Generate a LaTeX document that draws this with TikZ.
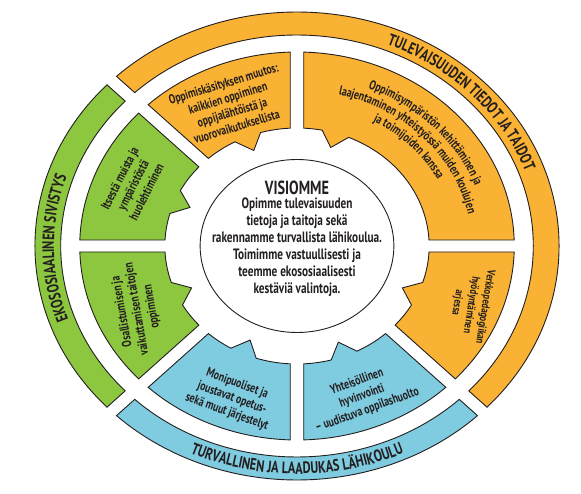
\documentclass[tikz,border=0pt]{standalone}
\usepackage{fontspec}
\setmainfont{PT Sans}[FakeStretch=0.75]
\usetikzlibrary{decorations.text}
\definecolor{orng}{RGB}{250,178,52}
\definecolor{grn}{RGB}{141,198,63}
\definecolor{blu}{RGB}{127,203,224}
\definecolor{ink}{RGB}{35,31,32}
\newcommand\bandfont{\bfseries\fontsize{16.5}{17}\selectfont}
\newcommand\segfont{\bfseries\fontsize{13}{15}\selectfont}
\newcommand\gd{6}
% a1 a2 tooth-centre colour
\newcommand\segm[4]{%
 \filldraw[segline, fill=#4] ({#1+asin(\gd/194)}:194)
  arc[start angle={#1+asin(\gd/194)}, end angle={#2-asin(\gd/194)}, radius=194]
  -- ({#2-asin(\gd/118)}:118)
  arc[start angle={#2-asin(\gd/118)}, end angle={#3+6}, radius=118]
  -- ({#3}:103) -- ({#3-6}:118)
  arc[start angle={#3-6}, end angle={#1+asin(\gd/118)}, radius=118] -- cycle;}
\newcommand\band[3]{%
 \filldraw[segline, fill=#3] ({#1+asin(\gd/234)}:234)
  arc[start angle={#1+asin(\gd/234)}, end angle={#2-asin(\gd/234)}, radius=234]
  -- ({#2-asin(\gd/211)}:211)
  arc[start angle={#2-asin(\gd/211)}, end angle={#1+asin(\gd/211)}, radius=211] -- cycle;}
\begin{document}
\begin{tikzpicture}[x=1pt,y=1pt,
  segline/.style={draw=ink, line width=0.9},
  segtext/.style={align=center, font=\segfont, text=ink, inner sep=0},
  ctext/.style={align=center, text=ink, inner sep=0}]
\useasboundingbox[fill=white] (0,0) rectangle (581,493);
\begin{scope}[shift={(297,247)}, xscale=1.12]
  \band{135}{225}{grn}
  \band{225}{315}{blu}
  \band{-45}{135}{orng}
  \segm{0}{90}{73}{orng}
  \segm{90}{135}{112}{orng}
  \segm{135}{180}{158}{grn}
  \segm{180}{225}{204}{grn}
  \segm{225}{270}{246}{blu}
  \segm{270}{315}{291}{blu}
  \segm{315}{360}{336}{orng}
  \filldraw[segline, fill=white] (0,0) circle[radius=86.5];
\end{scope}
\begin{scope}[shift={(297,247)}]
  \path[decorate, decoration={text along path, text color=ink, text align=center,
    text={|\bandfont|TULEVAISUUDEN TIEDOT JA TAIDOT}}]
    (82:243.04 and 217) arc[start angle=82, end angle=5, x radius=243.04, y radius=217];
  \path[decorate, decoration={text along path, text color=ink, text align=center,
    text={|\bandfont|EKOSOSIAALINEN SIVISTYS}}]
    (215:243.04 and 217) arc[start angle=215, end angle=146, x radius=243.04, y radius=217];
  \path[decorate, decoration={text along path, text color=ink, text align=center,
    text={|\bandfont|TURVALLINEN JA LAADUKAS LÄHIKOULU}}]
    (230:255.36 and 228) arc[start angle=230, end angle=310, x radius=255.36, y radius=228];
  \path[decorate, decoration={text along path, text color=ink, text align=center,
    text={|\segfont|Oppimisympäristön kehittäminen ja}}]
    (85:190.4 and 170) arc[start angle=85, end angle=2, x radius=190.4, y radius=170];
  \path[decorate, decoration={text along path, text color=ink, text align=center,
    text={|\segfont|laajentaminen yhteistyössä muiden koulujen}}]
    (85:174.72 and 156) arc[start angle=85, end angle=2, x radius=174.72, y radius=156];
  \path[decorate, decoration={text along path, text color=ink, text align=center,
    text={|\segfont|ja toimijoiden kanssa}}]
    (85:159.04 and 142) arc[start angle=85, end angle=2, x radius=159.04, y radius=142];
\end{scope}
\node[ctext, font=\bfseries\fontsize{19}{19}\selectfont] (vis) at (297,305) {VISIOMME};
\node[ctext, font=\bfseries\fontsize{15}{17}\selectfont] (vtext) at (297,246)
  {Opimme tulevaisuuden\\tietoja ja taitoja sekä\\rakennamme turvallista lähikoulua.\\Toimimme vastuullisesti ja\\teemme ekososiaalisesti\\kestäviä valintoja.};
\node[segtext, rotate=17] (t1) at (230,388) {Oppimiskäsityksen muutos:\\kaikkien oppiminen\\oppijalähtöistä ja\\vuorovaikutuksellista};
\node[segtext, rotate=63] (t3) at (133,308) {Itsestä muista ja\\ympäristöstä\\huolehtiminen};
\node[segtext, rotate=100] (t4) at (137,184) {Osallistumisen ja\\vaikuttamisen taitojen\\oppiminen};
\node[segtext, rotate=-20] (t5) at (232,95) {Monipuoliset ja\\joustavat opetus-\\sekä muut järjestelyt};
\node[segtext, rotate=20] (t6) at (362,97) {Yhteisöllinen\\hyvinvointi\\– uudistuva oppilashuolto};
\node[segtext, rotate=-99, font=\bfseries\fontsize{11.5}{14}\selectfont] (t7) at (471,188) {Verkkopedagogiikan\\hyödyntäminen\\arjessa};
\end{tikzpicture}
\end{document}
